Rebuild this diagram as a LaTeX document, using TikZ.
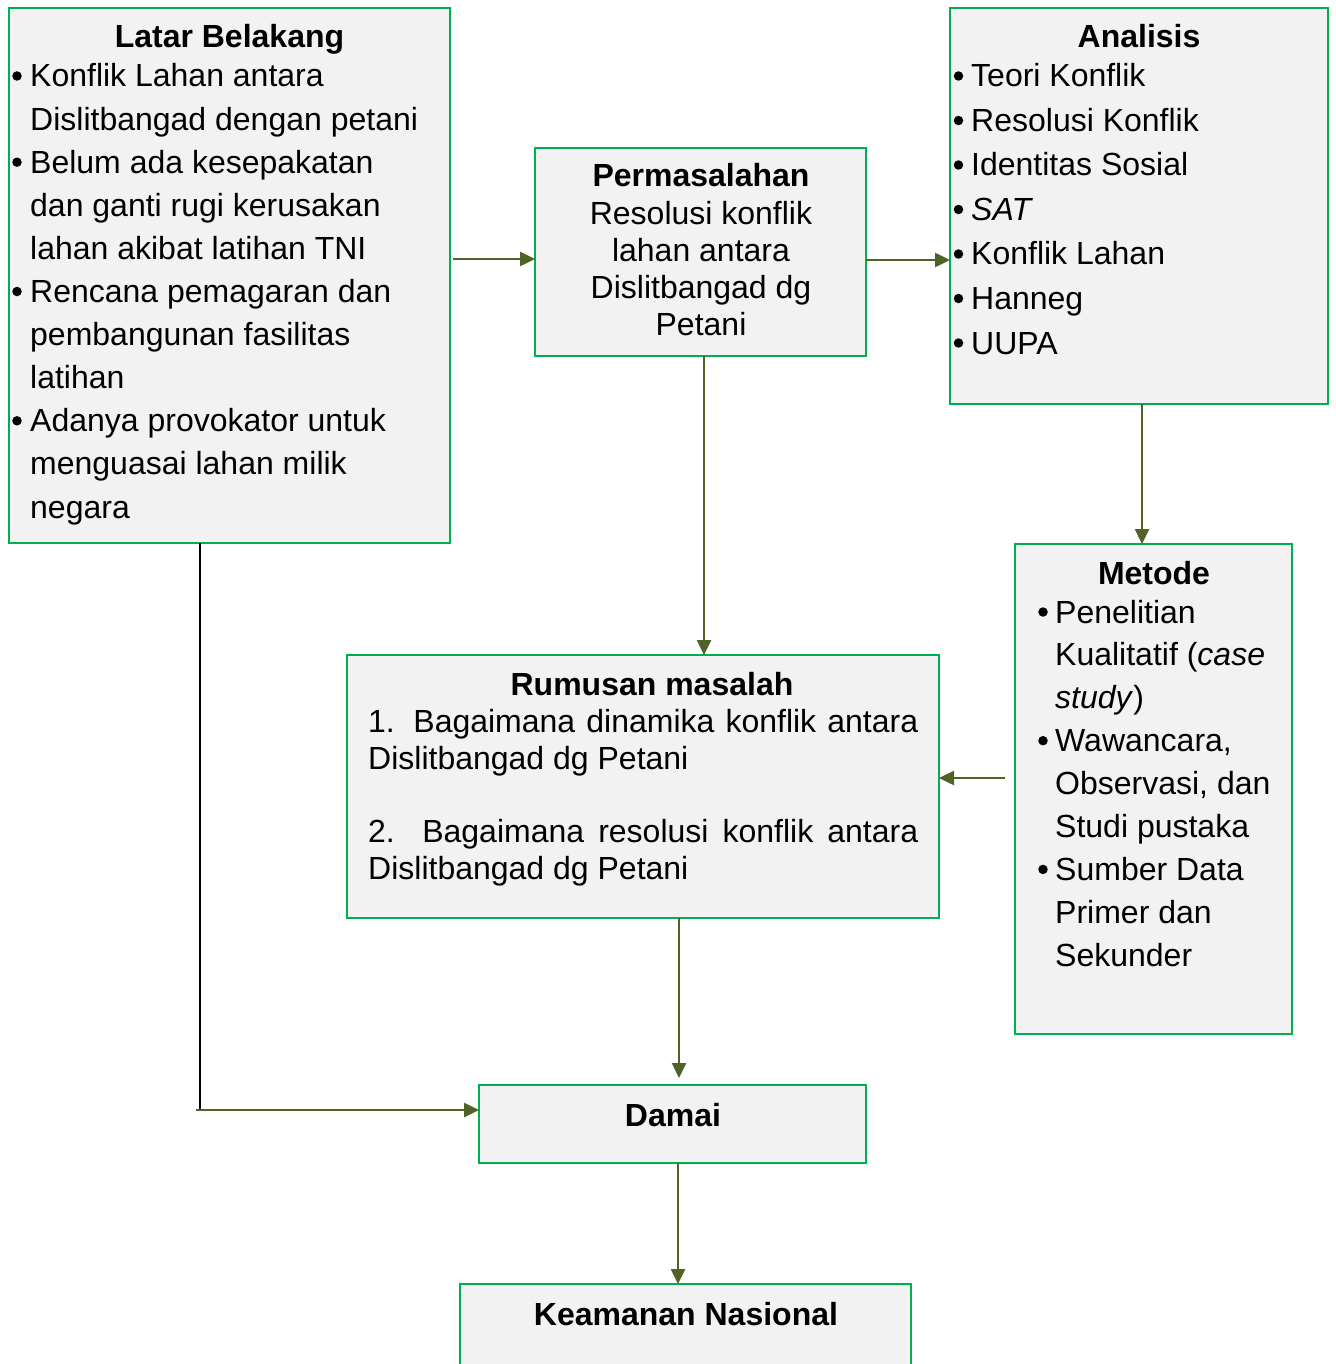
\documentclass[tikz,border=0pt]{standalone}
\usepackage{fontspec}
\setmainfont{Liberation Sans}
\usetikzlibrary{arrows.meta,calc}
\definecolor{bgreen}{HTML}{00B050}
\definecolor{boxfill}{HTML}{F2F2F2}
\definecolor{olivec}{HTML}{4F6228}
\begin{document}
\begin{tikzpicture}[x=1pt,y=-1pt,
  box/.style={draw=bgreen, fill=boxfill, line width=2pt, anchor=north west, inner sep=0pt, outer sep=0pt},
  tl/.style={anchor=base west, inner sep=0pt, font=\fontsize{32}{38}\selectfont},
  bul/.style={circle, fill=black, inner sep=0pt, minimum size=9.5pt, yshift=11pt},
  tt/.style={anchor=base, inner sep=0pt, font=\fontsize{32}{38}\selectfont\bfseries},
  tc/.style={anchor=base, inner sep=0pt, font=\fontsize{32}{38}\selectfont},
  arr/.style={draw=olivec, line width=2.5pt, -{Triangle[length=15pt,width=14pt]}},
  plainline/.style={draw=black, line width=2pt}]
\useasboundingbox (0,0) rectangle (1335,1364);
\clip (0,0) rectangle (1335,1364);

% boxes
\node[box, minimum width=441pt, minimum height=535pt] (lb) at (9,8) {};
\node[box, minimum width=331pt, minimum height=208pt] (perm) at (535,148) {};
\node[box, minimum width=378pt, minimum height=396pt] (an) at (950,8) {};
\node[box, minimum width=277pt, minimum height=490pt] (met) at (1015,544) {};
\node[box, minimum width=592pt, minimum height=263pt] (rm) at (347,655) {};
\node[box, minimum width=387pt, minimum height=78pt] (dm) at (479,1085) {};
\node[box, minimum width=451pt, minimum height=150pt] (km) at (460,1284) {};

% Latar Belakang
\node[tt] (lbt0) at (229.5,48) {Latar Belakang};
\node[bul] (lbb1) at (17,87) {};
\node[tl] (lbt1) at (30,87) {Konflik Lahan antara};
\node[tl] (lbt2) at (30,130.1) {Dislitbangad dengan petani};
\node[bul] (lbb2) at (17,173.2) {};
\node[tl] (lbt3) at (30,173.2) {Belum ada kesepakatan};
\node[tl] (lbt4) at (30,216.3) {dan ganti rugi kerusakan};
\node[tl] (lbt5) at (30,259.4) {lahan akibat latihan TNI};
\node[bul] (lbb3) at (17,302.5) {};
\node[tl] (lbt6) at (30,302.5) {Rencana pemagaran dan};
\node[tl] (lbt7) at (30,345.6) {pembangunan fasilitas};
\node[tl] (lbt8) at (30,388.7) {latihan};
\node[bul] (lbb4) at (17,431.8) {};
\node[tl] (lbt9) at (30,431.8) {Adanya provokator untuk};
\node[tl] (lbt10) at (30,474.9) {menguasai lahan milik};
\node[tl] (lbt11) at (30,518) {negara};

% Permasalahan
\node[tt] (pt0) at (701,187) {Permasalahan};
\node[tc] (pt1) at (701,224.5) {Resolusi konflik};
\node[tc] (pt2) at (701,261.5) {lahan antara};
\node[tc] (pt3) at (701,298.5) {Dislitbangad dg};
\node[tc] (pt4) at (701,335.5) {Petani};

% Analisis
\node[tt] (at0) at (1139,48) {Analisis};
\node[bul] (ab1) at (958.5,87) {};
\node[tl] (at1) at (971,87) {Teori Konflik};
\node[bul] (ab2) at (958.5,131.5) {};
\node[tl] (at2) at (971,131.5) {Resolusi Konflik};
\node[bul] (ab3) at (958.5,176) {};
\node[tl] (at3) at (971,176) {Identitas Sosial};
\node[bul] (ab4) at (958.5,220.5) {};
\node[tl] (at4) at (971,220.5) {\itshape SAT};
\node[bul] (ab5) at (958.5,265) {};
\node[tl] (at5) at (971,265) {Konflik Lahan};
\node[bul] (ab6) at (958.5,309.5) {};
\node[tl] (at6) at (971,309.5) {Hanneg};
\node[bul] (ab7) at (958.5,354) {};
\node[tl] (at7) at (971,354) {UUPA};

% Metode
\node[tt] (mt0) at (1154,584) {Metode};
\node[bul] (mb1) at (1043,623) {};
\node[tl] (mt1) at (1055,623) {Penelitian};
\node[tl] (mt2) at (1055,665.9) {Kualitatif (\textit{case}};
\node[tl] (mt3) at (1055,708.8) {\textit{study})};
\node[bul] (mb2) at (1043,751.7) {};
\node[tl] (mt4) at (1055,751.7) {Wawancara,};
\node[tl] (mt5) at (1055,794.6) {Observasi, dan};
\node[tl] (mt6) at (1055,837.5) {Studi pustaka};
\node[bul] (mb3) at (1043,880.4) {};
\node[tl] (mt7) at (1055,880.4) {Sumber Data};
\node[tl] (mt8) at (1055,923.3) {Primer dan};
\node[tl] (mt9) at (1055,966.2) {Sekunder};

% Rumusan masalah
\node[tt] (rt0) at (652,695) {Rumusan masalah};
\node[tl] (rt1) at (368,732) {\makebox[550pt][s]{1. Bagaimana dinamika konflik antara}};
\node[tl] (rt2) at (368,769) {Dislitbangad dg Petani};
\node[tl] (rt3) at (368,842) {\makebox[550pt][s]{2. Bagaimana resolusi konflik antara}};
\node[tl] (rt4) at (368,879) {Dislitbangad dg Petani};

% Damai, Keamanan
\node[tt] (dt) at (673,1126) {Damai};
\node[tt] (kt) at (686,1325) {Keamanan Nasional};

% connectors
\coordinate (ya) at (0,259);
\coordinate (yb) at (0,260);
\coordinate (xc) at (704,0);
\coordinate (xd) at (1142,0);
\coordinate (ye) at (0,778);
\coordinate (xf) at (679,0);
\coordinate (xg) at (678,0);
\coordinate (xh) at (200,0);
\coordinate (yh) at (0,1110);
\coordinate (dmtop) at ([yshift=7pt]dm.north);
\coordinate (metleft) at ([xshift=-10pt]met.west);
\coordinate (corner) at (xh |- yh);
\coordinate (cornerl) at ([xshift=-4pt]corner);

\draw[arr] ([xshift=3pt]lb.east |- ya) -- (perm.west |- ya);
\draw[arr] (perm.east |- yb) -- (an.west |- yb);
\draw[arr] (perm.south -| xc) -- (rm.north -| xc);
\draw[arr] (an.south -| xd) -- (met.north -| xd);
\draw[arr] (metleft |- ye) -- (rm.east |- ye);
\draw[arr] (rm.south -| xf) -- (dmtop -| xf);
\draw[arr] (dm.south -| xg) -- (km.north -| xg);
\draw[plainline] (lb.south -| xh) -- (corner);
\draw[arr] (cornerl) -- (dm.west |- yh);
\end{tikzpicture}
\end{document}
